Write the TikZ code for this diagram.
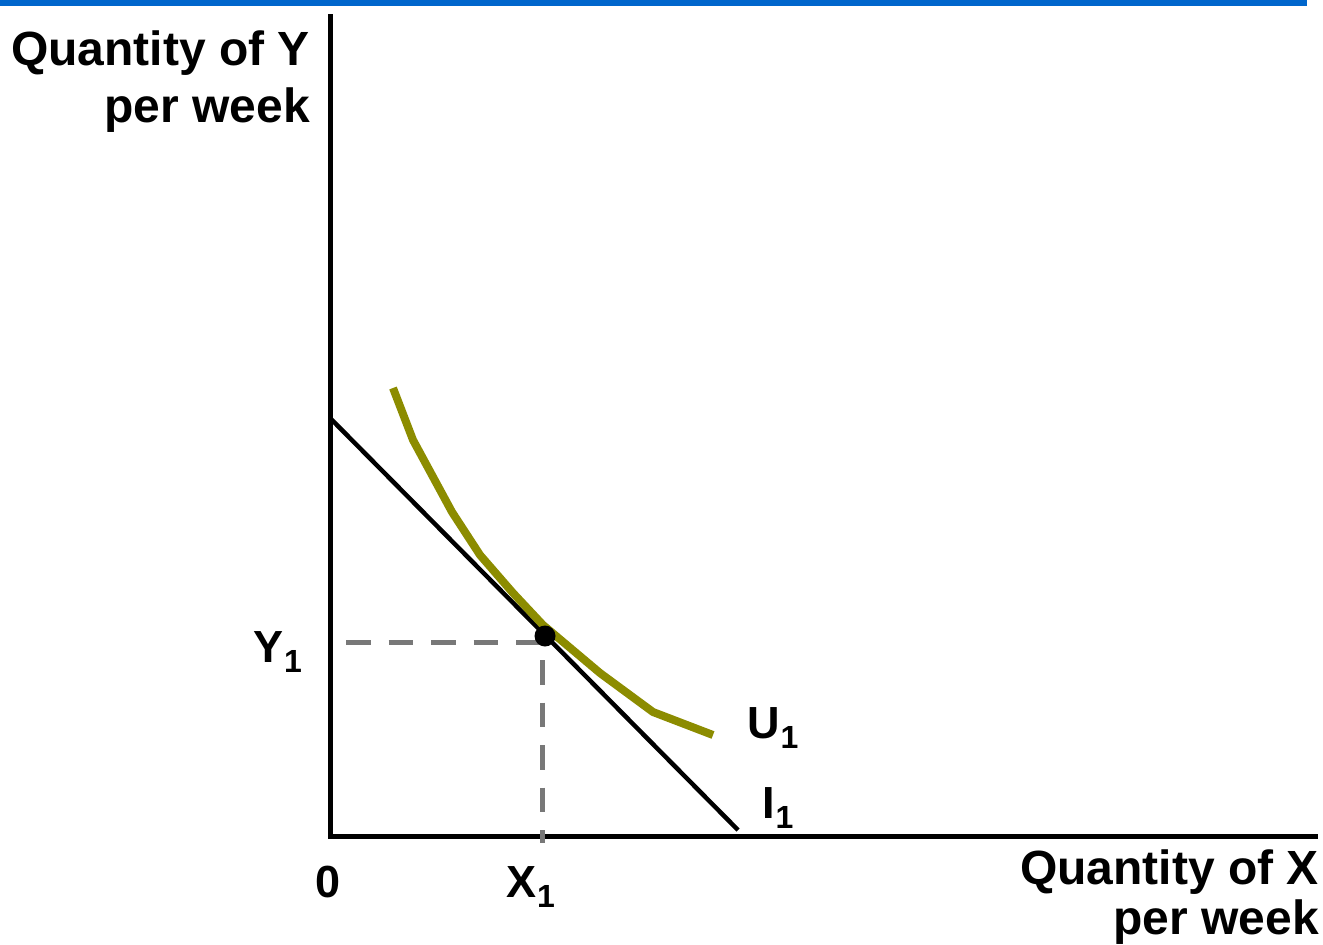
\documentclass[tikz,border=0pt]{standalone}
\usepackage{fontspec}
\setmainfont{Liberation Sans}
\definecolor{barblue}{RGB}{0,102,204}
\definecolor{ucol}{RGB}{140,140,0}
\definecolor{dashgray}{RGB}{120,120,120}
\newcommand{\lbl}{\fontsize{45}{54}\selectfont\bfseries}
\newcommand{\ttl}{\fontsize{48}{56}\selectfont\bfseries}
\newcommand{\subone}{\kern1pt\raisebox{-10pt}{\fontsize{32}{32}\selectfont\bfseries 1}}
\begin{document}
\begin{tikzpicture}[x=1pt,y=-1pt,
  txt/.style={inner sep=0pt,font=\lbl},
  title/.style={inner sep=0pt,font=\ttl},
  axisline/.style={line width=5pt,line join=miter},
  budget/.style={line width=4.5pt},
  ucurve/.style={line width=8pt,color=ucol,line join=round},
  guide/.style={line width=5pt,color=dashgray,dash pattern=on 24.5pt off 18pt}]
\useasboundingbox (0,0) rectangle (1323,945);
\fill[barblue] (0,0) rectangle (1307,6);
% axes
\coordinate (ytop) at (330,14);
\coordinate (origin) at (330,836);
\coordinate (xend) at (1318,836);
\draw[axisline] (ytop) -- (origin) -- (xend);
% dashed guides
\coordinate (hstart) at (346,642);
\coordinate (E) at (545,636);
\coordinate (hend) at (545,642);
\coordinate (vstart) at (542,660);
\coordinate (vend) at (542,843);
\draw[guide] (hstart) -- (hend);
\draw[guide] (vstart) -- (vend);
% budget line
\coordinate (bA) at (330,418);
\coordinate (bB) at (738,830);
\draw[budget] (bA) -- (bB);
% indifference curve
\draw[ucurve] (393,388) -- (413,440) -- (452,512) -- (480,555) -- (513,593) -- (543,625) -- (600,673) -- (653,712) -- (713,735);
% tangency point
\fill (E) circle (10.5);
% labels
\node[title,anchor=base east] (yl1) at (310,65) {Quantity of Y};
\node[title,anchor=base east] (yl2) at (310,122) {per week};
\node[title,anchor=base east] (xl1) at (1319,884) {Quantity of X};
\node[title,anchor=base east] (xl2) at (1319,934) {per week};
\node[txt,anchor=base] (zero) at (328,897) {0};
\node[txt,anchor=base west] (x1) at (506,897) {X\subone};
\node[txt,anchor=base west] (y1) at (253,662) {Y\subone};
\node[txt,anchor=base west] (u1) at (747,738) {U\subone};
\node[txt,anchor=base west] (i1) at (762,818) {I\subone};
\end{tikzpicture}
\end{document}
